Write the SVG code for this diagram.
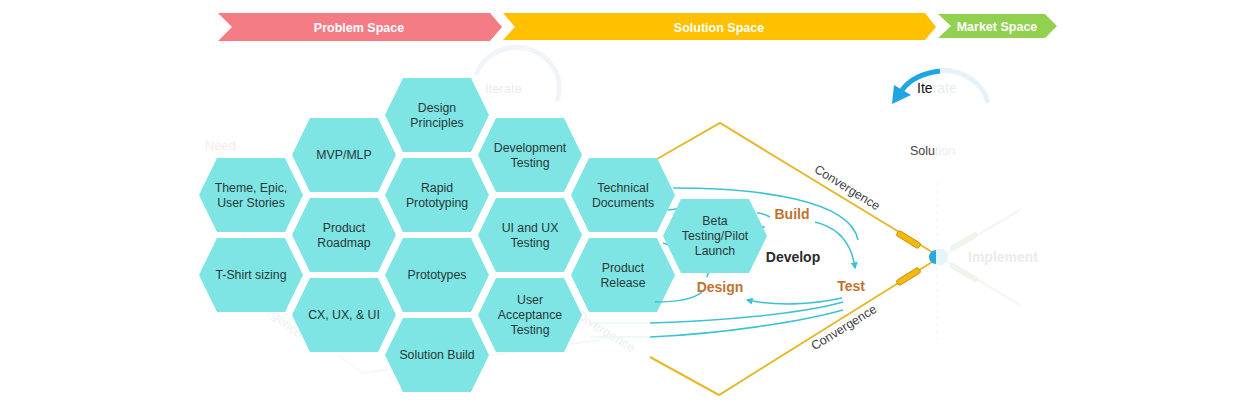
<svg xmlns="http://www.w3.org/2000/svg" xmlns:xlink="http://www.w3.org/1999/xlink" width="1240" height="410" viewBox="0 0 1240 410">
<style>
.ban{font-family:"Liberation Sans",Arial,sans-serif;font-size:12.5px;font-weight:bold;fill:#fff;text-anchor:middle}
.hex{fill:#7EE5E4}
.ht{font-family:"Liberation Sans",Arial,sans-serif;font-size:12.3px;fill:#263838;text-anchor:middle}
.cyc{font-family:"Liberation Sans",Arial,sans-serif;font-size:14px;font-weight:bold;fill:#BF7330;text-anchor:middle}
.dev{font-family:"Liberation Sans",Arial,sans-serif;font-size:14px;font-weight:bold;fill:#2b2b2b;text-anchor:middle}
.conv{font-family:"Liberation Sans",Arial,sans-serif;font-size:12.5px;fill:#404040;text-anchor:middle}
.faint{font-family:"Liberation Sans",Arial,sans-serif;font-size:13px;fill:#e9ecef}
.con{fill:none;stroke:#3CC3D3;stroke-width:1.6}
.gold{fill:none;stroke:#E6B82A;stroke-width:2}
.cap{fill:#F6B80C;stroke:#B98A00;stroke-width:0.8}
</style>
<defs>
<polygon id="hx" points="-52,0 -34,-37 34,-37 52,0 34,37 -34,37"/>
<marker id="ah" viewBox="0 0 10 10" refX="8" refY="5" markerWidth="7" markerHeight="7" markerUnits="userSpaceOnUse" orient="auto"><path d="M0,0 L10,5 L0,10 z" fill="#3CC3D3"/></marker>
</defs>

<!-- banners -->
<g id="banner-problem"><polygon points="218,13 490,13 502,27 490,41 218,41 232,27" fill="#F47C84"/><text class="ban" x="359" y="31.5">Problem Space</text></g>
<g id="banner-solution"><polygon points="503,13 925,13 936,27 925,40 503,40 515,27" fill="#FFC000"/><text class="ban" x="719" y="31.5">Solution Space</text></g>
<g id="banner-market"><polygon points="938,14 1045,14 1057,26 1045,38 938,38 951,26" fill="#92D050"/><text class="ban" x="997" y="30.5">Market Space</text></g>

<!-- faint background -->
<g id="faint">
<path d="M476,75 A42,40 0 0 1 557,101" fill="none" stroke="#f1f5f9" stroke-width="5"/>
<text class="faint" x="485" y="93">Iterate</text>
<text class="faint" x="205" y="150" style="fill:#f9e9eb">Need</text>
<text class="faint" transform="translate(247,298) rotate(38)" style="fill:#efefef">Divergence</text>
<text class="faint" transform="translate(576,318) rotate(32)" style="fill:#eeeeee">Divergence</text>
<path d="M243,236 L320,300 M337,355 L363,373 L600,340" fill="none" stroke="#f7f7f7" stroke-width="2"/>
<path d="M590,323 L650,323 M590,337 L650,337" stroke="#eaf7f9" stroke-width="1.5"/>
<path d="M937,183 L937,340" stroke="#ebf3f7" stroke-width="1" stroke-dasharray="4,3"/>
<path d="M940,257 L1020,210 M940,257 L1020,305" stroke="#f2f6ef" stroke-width="2"/>
<path d="M953,248 L975,235 M953,266 L975,279" stroke="#f0f5ec" stroke-width="6" stroke-linecap="round"/>
<text class="faint" x="968" y="262" style="font-weight:bold;font-size:14px;fill:#e9ece8">Implement</text>
<path d="M988,103 A48,40 0 0 0 940,70" fill="none" stroke="#e6f2fa" stroke-width="5"/>
<text class="faint" x="917" y="93" style="font-size:14px"><tspan fill="#111">Ite</tspan><tspan>rate</tspan></text>
<text class="faint" x="910" y="155" style="font-size:12.5px"><tspan fill="#444">Solu</tspan><tspan>tion</tspan></text>
</g>
<path id="iterate-arrow" d="M940,71 Q914,74 902,90" fill="none" stroke="#1FA5E0" stroke-width="5"/>
<polygon points="892,104 894,85 911,95" fill="#1FA5E0"/>

<!-- gold diamond -->
<g id="diamond">
<path class="gold" d="M657,159 L720,123 L932,252"/>
<path class="gold" d="M650,357 L719,395 L932,262"/>
<rect class="cap" x="-13" y="-3" width="26" height="6" rx="2" transform="translate(908.5,239.5) rotate(31.8)"/>
<rect class="cap" x="-13" y="-3" width="26" height="6" rx="2" transform="translate(908.5,276.5) rotate(-31.8)"/>
<circle cx="940" cy="257" r="8" fill="#e3f4fb"/>
<path d="M936,250 A7,7 0 0 0 936,264 Z" fill="#2AA9E0"/>
<text class="conv" transform="translate(845,191) rotate(31.8)">Convergence</text>
<text class="conv" transform="translate(846,331) rotate(-31.8)">Convergence</text>
</g>

<!-- hexagon nodes -->
<g id="n-theme"><use href="#hx" class="hex" x="251" y="195"/><text class="ht" x="251" y="191.5">Theme, Epic,</text><text class="ht" x="251" y="207">User Stories</text></g>
<g id="n-tshirt"><use href="#hx" class="hex" x="251" y="275"/><text class="ht" x="251" y="279">T-Shirt sizing</text></g>
<g id="n-mvp"><use href="#hx" class="hex" x="344" y="155"/><text class="ht" x="344" y="159">MVP/MLP</text></g>
<g id="n-roadmap"><use href="#hx" class="hex" x="344" y="235"/><text class="ht" x="344" y="231.5">Product</text><text class="ht" x="344" y="247">Roadmap</text></g>
<g id="n-cx"><use href="#hx" class="hex" x="344" y="315"/><text class="ht" x="344" y="319">CX, UX, &amp; UI</text></g>
<g id="n-design-principles"><use href="#hx" class="hex" x="437" y="115"/><text class="ht" x="437" y="111.5">Design</text><text class="ht" x="437" y="127">Principles</text></g>
<g id="n-rapid"><use href="#hx" class="hex" x="437" y="195"/><text class="ht" x="437" y="191.5">Rapid</text><text class="ht" x="437" y="207">Prototyping</text></g>
<g id="n-prototypes"><use href="#hx" class="hex" x="437" y="275"/><text class="ht" x="437" y="279">Prototypes</text></g>
<g id="n-solution-build"><use href="#hx" class="hex" x="437" y="355"/><text class="ht" x="437" y="359">Solution Build</text></g>
<g id="n-dev-testing"><use href="#hx" class="hex" x="530" y="155"/><text class="ht" x="530" y="151.5">Development</text><text class="ht" x="530" y="167">Testing</text></g>
<g id="n-uiux"><use href="#hx" class="hex" x="530" y="235"/><text class="ht" x="530" y="231.5">UI and UX</text><text class="ht" x="530" y="247">Testing</text></g>
<g id="n-uat"><use href="#hx" class="hex" x="530" y="315"/><text class="ht" x="530" y="304">User</text><text class="ht" x="530" y="319">Acceptance</text><text class="ht" x="530" y="334">Testing</text></g>
<g id="n-techdocs"><use href="#hx" class="hex" x="623" y="195"/><text class="ht" x="623" y="191.5">Technical</text><text class="ht" x="623" y="207">Documents</text></g>
<g id="n-release"><use href="#hx" class="hex" x="623" y="275"/><text class="ht" x="623" y="271.5">Product</text><text class="ht" x="623" y="287">Release</text></g>

<!-- connectors -->
<g id="connectors">
<path class="con" d="M673,188 C760,188 850,200 858,240"/>
<path class="con" d="M815,222 C840,228 852,245 855,268" marker-end="url(#ah)"/>
<path class="con" d="M842,298 C810,305 775,306 747,300" marker-end="url(#ah)"/>
<path class="con" d="M707,277 C712,252 738,232 764,227" marker-end="url(#ah)"/>
<path class="con" d="M757,213 C762,213 766,215 770,217"/>
<path class="con" d="M655,302 C680,302 695,298 702,292"/>
<path class="con" d="M650,323 C720,321 800,314 843,302"/>
<path class="con" d="M650,337 C720,334 800,322 843,310"/>
<path class="con" d="M668,210 L684,208"/>
<path class="con" d="M663,243 L672,246"/>
</g>

<g id="n-beta"><use href="#hx" class="hex" x="715" y="236"/><text class="ht" x="715" y="225">Beta</text><text class="ht" x="715" y="240">Testing/Pilot</text><text class="ht" x="715" y="255">Launch</text></g>

<g id="cycle-labels">
<text class="cyc" x="792" y="219">Build</text>
<text class="dev" x="793" y="262">Develop</text>
<text class="cyc" x="720" y="292">Design</text>
<text class="cyc" x="851" y="291">Test</text>
</g>
</svg>
